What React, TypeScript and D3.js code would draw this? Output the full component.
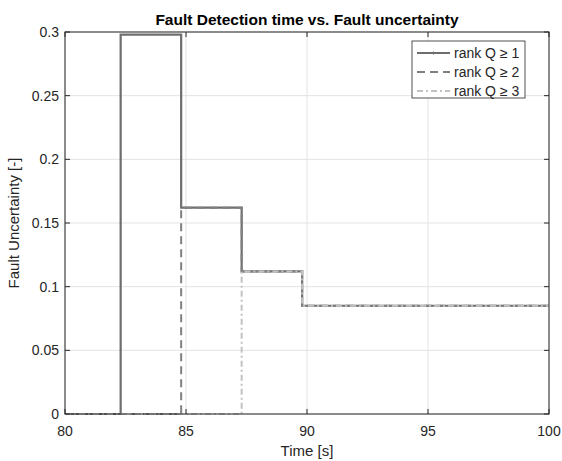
import React from "react";
import * as d3 from "d3";

const times = [80, 82.3, 84.8, 87.3, 89.8, 100];
const q1 = [0, 0.298, 0.162, 0.112, 0.085, 0.085];
const q2 = [0, 0, 0.162, 0.112, 0.085, 0.085];
const q3 = [0, 0, 0, 0.112, 0.085, 0.085];
const seriesNames = ["rank Q \u2265 1", "rank Q \u2265 2", "rank Q \u2265 3"];
const xTicks = [80, 85, 90, 95, 100];
const yTicks = [0, 0.05, 0.1, 0.15, 0.2, 0.25, 0.3];

const W = 562, H = 461;
const M = { left: 65, right: 13, top: 32, bottom: 47 };

export default function App() {
  const x = d3.scaleLinear().domain([80, 100]).range([M.left, W - M.right]);
  const y = d3.scaleLinear().domain([0, 0.3]).range([H - M.bottom, M.top]);
  const line = d3
    .line<number>()
    .x((_, i) => x(times[i]))
    .y((d) => y(d))
    .curve(d3.curveStepAfter);
  const styles = [
    { stroke: "#6e6e6e", width: 2.2, dash: "" },
    { stroke: "#808080", width: 2, dash: "8,5" },
    { stroke: "#c2c2c2", width: 2, dash: "6,3,2,3" },
  ];
  const data = [q1, q2, q3];
  const font = "Liberation Sans, Arial, Helvetica, sans-serif";
  const x0 = M.left, x1 = W - M.right, y0 = H - M.bottom, y1 = M.top;
  const lg = { x: 412, y: 41, w: 113, h: 57, row0: 53, dy: 19 };
  return (
    <svg width={W} height={H} style={{ position: "absolute", left: 0, top: 0, background: "#fff" }} fontFamily={font}>
      <rect x={0} y={0} width={W} height={H} fill="#fff" />
      {xTicks.map((t) => (
        <line key={"gx" + t} x1={x(t)} x2={x(t)} y1={y0} y2={y1} stroke="#e3e3e3" strokeWidth={1} />
      ))}
      {yTicks.map((t) => (
        <line key={"gy" + t} x1={x0} x2={x1} y1={y(t)} y2={y(t)} stroke="#e3e3e3" strokeWidth={1} />
      ))}
      {data.map((d, i) => (
        <path
          key={i}
          d={line(d) || ""}
          fill="none"
          stroke={styles[i].stroke}
          strokeWidth={styles[i].width}
          strokeDasharray={styles[i].dash}
        />
      ))}
      <rect x={x0} y={y1} width={x1 - x0} height={y0 - y1} fill="none" stroke="#262626" strokeWidth={1} />
      {xTicks.map((t) => (
        <g key={"tx" + t}>
          <line x1={x(t)} x2={x(t)} y1={y0} y2={y0 - 5} stroke="#262626" />
          <line x1={x(t)} x2={x(t)} y1={y1} y2={y1 + 5} stroke="#262626" />
          <text x={x(t)} y={y0 + 22} textAnchor="middle" fontSize={14} fill="#262626">
            {t}
          </text>
        </g>
      ))}
      {yTicks.map((t) => (
        <g key={"ty" + t}>
          <line x1={x0} x2={x0 + 5} y1={y(t)} y2={y(t)} stroke="#262626" />
          <line x1={x1} x2={x1 - 5} y1={y(t)} y2={y(t)} stroke="#262626" />
          <text x={x0 - 6} y={y(t) + 5} textAnchor="end" fontSize={14} fill="#262626">
            {String(t)}
          </text>
        </g>
      ))}
      <text x={(x0 + x1) / 2} y={456} textAnchor="middle" fontSize={15} fill="#262626">
        Time [s]
      </text>
      <text
        transform={`translate(19,${(y0 + y1) / 2}) rotate(-90)`}
        textAnchor="middle"
        fontSize={15}
        fill="#262626"
      >
        Fault Uncertainty [-]
      </text>
      <text x={(x0 + x1) / 2} y={25} textAnchor="middle" fontSize={15.5} fontWeight="bold" fill="#000">
        Fault Detection time vs. Fault uncertainty
      </text>
      <g>
        <rect x={lg.x} y={lg.y} width={lg.w} height={lg.h} fill="#fff" stroke="#262626" strokeWidth={0.8} />
        {seriesNames.map((n, i) => (
          <g key={n}>
            <line
              x1={lg.x + 5}
              x2={lg.x + 38}
              y1={lg.row0 + i * lg.dy}
              y2={lg.row0 + i * lg.dy}
              stroke={styles[i].stroke}
              strokeWidth={styles[i].width}
              strokeDasharray={styles[i].dash}
            />
            {i === 0 && (
              <line
                x1={lg.x + 21.5}
                x2={lg.x + 21.5}
                y1={lg.row0 - 1.5}
                y2={lg.row0 + 1.5}
                stroke={styles[0].stroke}
                strokeWidth={1}
              />
            )}
            <text x={lg.x + 42} y={lg.row0 + i * lg.dy + 5} fontSize={14} fill="#262626">
              {n}
            </text>
          </g>
        ))}
      </g>
    </svg>
  );
}
